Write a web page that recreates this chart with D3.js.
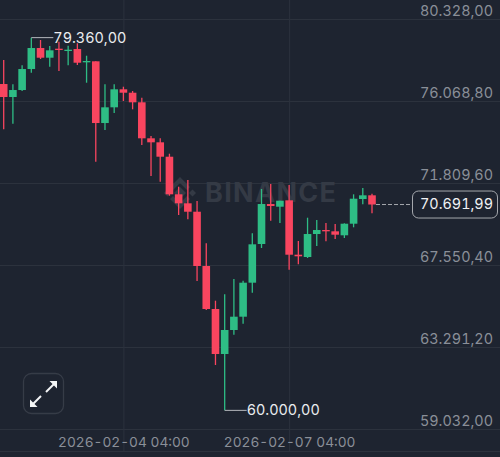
<!DOCTYPE html>
<html><head><meta charset="utf-8">
<script src="https://cdn.jsdelivr.net/npm/d3@7/dist/d3.min.js"></script>
<style>html,body{margin:0;padding:0;background:#1e2430;overflow:hidden}svg{display:block}text{font-family:Inter,"Open Sans",sans-serif;font-variant-numeric:tabular-nums}</style>
</head><body><svg id="c" width="500" height="457"></svg>
<script>
const opens = [76951,76276,76639,77730,78821,78317,78785,78733,78769,78078,78130,74925,75741,76676,76499,76001,74131,73923,73175,71222,70755,70318,67498,65265,62927,64174,64865,66631,68641,70718,70578,70910,68085,67966,69160,69368,69300,69093,69695,70978,71170];
const highs = [78198,76935,77922,79360,79236,78925,79148,78940,79065,78421,78130,76935,76935,76811,76587,76240,74250,74131,73331,71617,71965,70874,68677,65696,66028,66823,66734,69196,71497,71757,70890,71705,68797,70007,69887,69731,69680,69716,71222,71549,71253];
const lows = [74598,74889,76587,77538,78250,77850,77626,77922,77938,77018,72915,74562,75445,76068,75637,73783,72173,71877,71149,70147,69924,66719,65213,62356,60000,63930,64501,66111,68433,69851,69731,67306,67587,67914,68537,68781,68900,68953,69508,70703,70235];
const closes = [76276,76639,77730,78821,78317,78701,78717,78733,78057,78146,74925,75741,76676,76499,76001,74131,73923,73175,71222,70755,70318,67498,65265,62927,64174,64865,66631,68625,70718,70614,70890,68085,68002,69160,69368,69300,69124,69695,70994,71170,70692];
const priceTicks = [80328,76068.8,71809.6,67550.4,63291.2,59032];
const dateTicks = ["2026-02-04T04:00Z","2026-02-07T04:00Z"];
const firstTime = "2026-02-02T00:00Z";
const highLabel = 79360, lowLabel = 60000, lastPrice = 70691.99;
const watermark = "BINANCE";

const bg = "#1e2430", grid = "#2c323d", up = "#2ebd85", down = "#f9455f", axisText = "#8a8f98";
const svg = d3.select("#c");
svg.append("rect").attr("width",500).attr("height",457).attr("fill",bg);

const times = opens.map((_,i)=>d3.utcHour.offset(new Date(firstTime), 4*i));
const x = d3.scaleUtc().domain([times[0],times[times.length-1]]).range([3.7,372]);
const y = d3.scaleLinear().domain([59032,80328]).range([429,19]);
const loc = d3.formatLocale({decimal:",",thousands:".",grouping:[3],currency:["",""]});
const fmt = loc.format(",.2f");

// grid
const gy = svg.append("g").call(
  d3.axisRight(y).tickValues(priceTicks).tickSize(500).tickFormat(fmt));
gy.select(".domain").remove();
gy.selectAll("line").attr("stroke",grid).attr("stroke-width",1);
gy.selectAll("text").attr("x",493).attr("dy",0).attr("y",-7).attr("text-anchor","end").attr("dominant-baseline","middle")
  .attr("fill",axisText).attr("font-size",14.4).style("font-family","Inter,sans-serif");

const gx = svg.append("g").call(
  d3.axisBottom(x).tickValues(dateTicks.map(d=>new Date(d))).tickSize(451).tickFormat(d3.utcFormat("%Y-%m-%d %H:%M")));
gx.select(".domain").remove();
gx.selectAll("line").attr("stroke",grid);
gx.selectAll("text").attr("y",443).attr("dy",0).attr("dominant-baseline","middle")
  .attr("fill",axisText).attr("font-size",13.7).style("font-family","Inter,sans-serif");
svg.append("line").attr("x1",0).attr("x2",500).attr("y1",451.5).attr("y2",451.5).attr("stroke",grid);

// watermark
const wm = svg.append("g").attr("fill","#343a45");
[[180,193,6],[167.5,193,3.5],[192.5,193,3.5]].forEach(([cx,cy,r])=>{
  wm.append("path").attr("d",`M${cx} ${cy-r}L${cx+r} ${cy}L${cx} ${cy+r}L${cx-r} ${cy}Z`);
});
wm.append("path").attr("d","M180 177L190 187L187 190L180 183L173 190L170 187Z");
wm.append("path").attr("d","M180 209L190 199L187 196L180 203L173 196L170 199Z");
wm.append("text").attr("x",205).attr("y",194.5).attr("dominant-baseline","middle")
  .attr("font-size",27).attr("font-weight",700).attr("letter-spacing",1.3).text(watermark);

// candles
const col = i=>closes[i]>=opens[i]?up:down;
const bw = 7.6;
const g = svg.append("g");
g.selectAll("line").data(times).join("line")
  .attr("x1",d=>x(d)).attr("x2",d=>x(d))
  .attr("y1",(d,i)=>y(highs[i])).attr("y2",(d,i)=>y(lows[i]))
  .attr("stroke",(d,i)=>col(i)).attr("stroke-width",1.3);
g.selectAll("rect").data(times).join("rect")
  .attr("x",d=>x(d)-bw/2).attr("width",bw)
  .attr("y",(d,i)=>y(Math.max(opens[i],closes[i])))
  .attr("height",(d,i)=>Math.max(1.3,Math.abs(y(opens[i])-y(closes[i]))))
  .attr("fill",(d,i)=>col(i));

// high / low annotations
const hiI = highs.indexOf(highLabel), loI = lows.indexOf(lowLabel);
[[hiI,highLabel],[loI,lowLabel]].forEach(([i,v])=>{
  svg.append("line").attr("x1",x(times[i])).attr("x2",x(times[i])+22).attr("y1",y(v)).attr("y2",y(v))
    .attr("stroke","#b5b8bd").attr("stroke-width",1);
  svg.append("text").attr("x",x(times[i])+22).attr("y",y(v)+1).attr("dominant-baseline","middle")
    .attr("fill","#eaecef").attr("font-size",14.4).text(fmt(v));
});

// last price
svg.append("line").attr("x1",x(times[40])+4).attr("x2",412).attr("y1",y(lastPrice)).attr("y2",y(lastPrice))
  .attr("stroke","#a5a8ad").attr("stroke-dasharray","4 2");
svg.append("rect").attr("x",412.5).attr("y",y(lastPrice)-13.5).attr("width",85).attr("height",27).attr("rx",6)
  .attr("fill",bg).attr("stroke","#a5a8ad").attr("stroke-width",1);
svg.append("text").attr("x",456.5).attr("y",y(lastPrice)+1).attr("text-anchor","middle").attr("dominant-baseline","middle")
  .attr("fill","#f0f1f3").attr("font-size",14.4).text(fmt(lastPrice));

// expand button
svg.append("rect").attr("x",23.5).attr("y",373.5).attr("width",40).attr("height",40).attr("rx",8)
  .attr("fill",bg).attr("stroke","#363c47").attr("stroke-width",1.3);
const ic = svg.append("g").attr("fill","#f4f5f6");
ic.append("path").attr("d","M49.5 381L57 381L57 388.5Z");
ic.append("path").attr("d","M37.5 407L30 407L30 399.5Z");
ic.append("line").attr("x1",54).attr("y1",384).attr("x2",46).attr("y2",392).attr("stroke","#f4f5f6").attr("stroke-width",2);
ic.append("line").attr("x1",33).attr("y1",404).attr("x2",41).attr("y2",396).attr("stroke","#f4f5f6").attr("stroke-width",2);
</script></body></html>
